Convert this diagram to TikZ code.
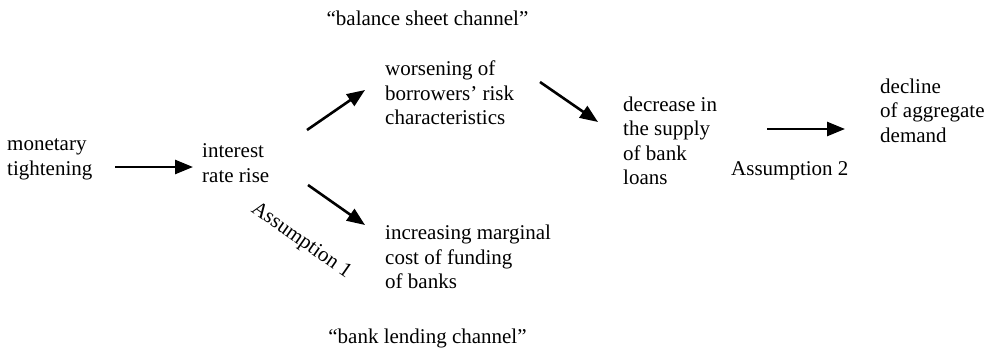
\documentclass[tikz,border=0pt]{standalone}
\usepackage{fontspec}
\setmainfont{Liberation Serif}
\usetikzlibrary{arrows.meta,calc}
\begin{document}
\begin{tikzpicture}[x=1pt,y=1pt,
  lbl/.style={inner sep=0pt,align=left,anchor=base west,font=\fontsize{21}{24.5}\selectfont},
  ctr/.style={inner sep=0pt,anchor=base,font=\fontsize{21}{24.5}\selectfont},
  arr/.style={line width=2.6pt,-{Triangle[length=18pt,width=14pt]}}]
\useasboundingbox (0,0) rectangle (993,-348);
\node[ctr] (bsc) at (427.5,-25) {``balance sheet channel''};
\node[ctr] (blc) at (427.5,-343) {``bank lending channel''};
\node[lbl] (mon) at (7,-175) {monetary\\tightening};
\node[lbl] (int) at (202,-182) {interest\\rate rise};
\node[lbl] (wors) at (385,-124.5) {worsening of\\borrowers’ risk\\characteristics};
\node[lbl] (inc) at (385,-288.5) {increasing marginal\\cost of funding\\of banks};
\node[lbl] (dec) at (623,-184.5) {decrease in\\the supply\\of bank\\loans};
\node[lbl] (decl) at (880,-142) {decline\\of aggregate\\demand};
\node[lbl] (a2) at (731,-175) {Assumption 2};
\node[ctr,anchor=center,rotate=-35] (a1) at (301,-241) {Assumption 1};
\draw[arr] ($(mon.base west)+(108,8)$) -- ($(int.base west)+(-9,15)$);
\draw[arr] ($(int.base west)+(105,52)$) -- ($(wors.base west)+(-20,34.5)$);
\draw[arr] ($(int.base west)+(106,-3)$) -- ($(inc.base west)+(-20,63.5)$);
\draw[arr] ($(wors.base west)+(155,42.5)$) -- ($(dec.base west)+(-25,62.5)$);
\draw[arr] ($(dec.base west)+(144,55.5)$) -- ($(decl.base west)+(-35,13)$);
\end{tikzpicture}
\end{document}
